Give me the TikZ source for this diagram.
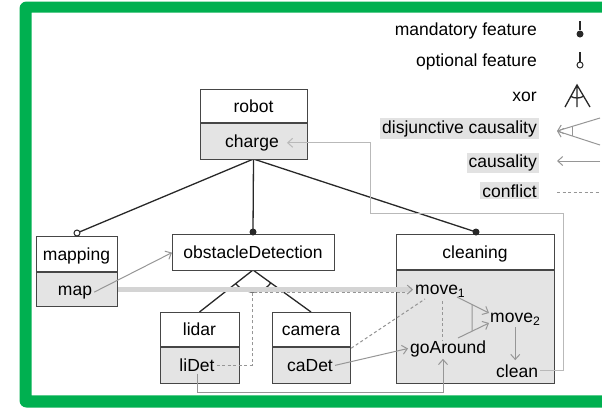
\documentclass[tikz,border=0pt]{standalone}
\usepackage{fontspec}
\setmainfont{Liberation Sans}
\usetikzlibrary{arrows.meta,calc}
\definecolor{framegreen}{RGB}{0,176,80}
\definecolor{boxline}{RGB}{70,70,70}
\definecolor{bodyfill}{RGB}{228,228,228}
\definecolor{causalc}{RGB}{150,150,150}
\definecolor{lightc}{RGB}{185,185,185}
\definecolor{bandc}{RGB}{212,212,212}
\definecolor{hlc}{RGB}{226,226,226}
\definecolor{treec}{RGB}{40,40,40}
\begin{document}
\begin{tikzpicture}[x=1pt,y=-1pt,
  font=\fontsize{17.5pt}{21pt}\selectfont,
  >={Straight Barb[length=5pt,width=9pt]},
  hdr/.style={draw=boxline, line width=1.2pt, fill=white, inner sep=0pt, anchor=north west},
  bdy/.style={hdr, fill=bodyfill},
  lbl/.style={anchor=base, inner sep=2pt},
  lblw/.style={anchor=base west, inner sep=2pt},
  tree/.style={draw=treec, line width=1.3pt},
  mandot/.style={circle, fill=treec, inner sep=0pt, minimum size=7pt},
  optdot/.style={circle, draw=treec, fill=white, line width=1pt, inner sep=0pt, minimum size=6pt},
  causal/.style={draw=causalc, line width=1pt, ->},
  causall/.style={draw=lightc, line width=1pt, ->},
  band/.style={draw=bandc, line width=4.5pt},
  conflict/.style={draw=causalc, line width=1pt, dash pattern=on 3pt off 2.5pt},
  legtxt/.style={anchor=base east, inner sep=2pt},
  leghl/.style={legtxt, fill=hlc},
  divider/.style={draw=boxline, line width=2.2pt}]
\useasboundingbox (0,0) rectangle (602,408);
\begin{scope}
\clip (0,0) rectangle (602,408);
\fill[framegreen, even odd rule] [rounded corners=7pt] (19.5,1.5) rectangle (660,407.5) [sharp corners] (31.5,12.7) rectangle (660,395.3);
\end{scope}

% ---------- legend ----------
\node[legtxt] (lg1) at (539,35.5) {mandatory feature};
\node[legtxt] (lg2) at (539,66) {optional feature};
\node[legtxt] (lg3) at (539,101.5) {xor};
\node[leghl] (lg4) at (539,133) {disjunctive causality};
\node[leghl] (lg5) at (539,167.5) {causality};
\node[leghl] (lg6) at (539,197) {conflict};

\coordinate (s1t) at (580,21);
\node[mandot] (s1) at (580,34) {};
\draw[tree] (s1t) -- (s1);
\coordinate (s2t) at (580,52);
\draw[tree] (s2t) -- (580,62);
\node[optdot] (s2) at (580,65) {};

\coordinate (xa) at (577,85);
\coordinate (xl) at (565,107);
\coordinate (xr) at (590,107);
\coordinate (xb) at (577,107);
\draw[tree] (xl) -- (xa) -- (xr) (xa) -- (xb);
\draw[tree] (xa) ++(241.4:13pt) arc[start angle=241.4, end angle=300.6, radius=13pt];

\coordinate (dt) at (557,131);
\coordinate (du) at (600,118);
\coordinate (dl) at (600,145);
\draw[causal] (du) -- (dt);
\draw[causal] (dl) -- (dt);
\draw[draw=causalc, line width=1pt] ($(dt)!0.37!(du)$) -- ($(dt)!0.37!(dl)$);

\coordinate (ct1) at (600,161);
\coordinate (ct2) at (557,161);
\draw[causal] (ct1) -- (ct2);
\coordinate (cf1) at (557,192);
\coordinate (cf2) at (600,192);
\draw[conflict] (cf1) -- (cf2);

% ---------- features ----------
\coordinate (robotbot) at (253.5,159);
\coordinate (apex) at (253,270);
\draw[tree] (robotbot) -- (77,233);
\draw[tree] (robotbot) -- (253,232);
\draw[tree] (robotbot) -- (476,232);
\draw[tree] (199.5,312) -- (apex) -- (311,312);
\draw[tree] (apex) ++(218.1:22pt) arc[start angle=218.1, end angle=324.1, radius=22pt];

\node[hdr, minimum width=107pt, minimum height=34pt] (robotH) at (200,89) {};
\node[bdy, minimum width=107pt, minimum height=36pt] (robotB) at (200,123) {};
\draw[divider] (robotB.north west) -- (robotB.north east);
\node[lbl] (robot) at (253.5,112.5) {robot};
\node[lbl] (charge) at (252,147.3) {charge};

\node[hdr, minimum width=81pt, minimum height=36pt] (mapH) at (36,236) {};
\node[bdy, minimum width=81pt, minimum height=34pt] (mapB) at (36,272) {};
\draw[divider] (mapB.north west) -- (mapB.north east);
\node[lbl] (mapping) at (76.5,260.5) {mapping};
\node[lbl] (map) at (75,295) {map};

\node[hdr, minimum width=162pt, minimum height=36pt] (odH) at (172,234) {};
\node[lbl] (od) at (253,258.3) {obstacleDetection};

\node[hdr, minimum width=79pt, minimum height=35pt] (lidarH) at (160,312) {};
\node[bdy, minimum width=79pt, minimum height=36pt] (lidarB) at (160,347) {};
\draw[divider] (lidarB.north west) -- (lidarB.north east);
\node[lbl] (lidar) at (199.5,335.8) {lidar};
\node[lbl] (liDet) at (197,371.3) {liDet};

\node[hdr, minimum width=78pt, minimum height=35pt] (camH) at (272,312) {};
\node[bdy, minimum width=78pt, minimum height=36pt] (camB) at (272,347) {};
\draw[divider] (camB.north west) -- (camB.north east);
\node[lbl] (camera) at (311,335.8) {camera};
\node[lbl] (caDet) at (310,371.3) {caDet};

\node[hdr, minimum width=158pt, minimum height=36pt] (clH) at (396,234) {};
\node[bdy, minimum width=158pt, minimum height=113pt] (clB) at (396,270) {};
\draw[divider] (clB.north west) -- (clB.north east);
\node[lbl] (cleaning) at (475,258.3) {cleaning};
\node[lblw] (move1) at (413,294.5) {move\textsubscript{1}};
\node[lblw] (move2) at (488,322.5) {move\textsubscript{2}};
\node[lblw] (goAround) at (408,353) {goAround};
\node[lblw] (clean) at (494,377) {clean};

\node[optdot] (optM) at (77,233) {};
\node[mandot] (mandOD) at (253,232) {};
\node[mandot] (mandCL) at (476,232) {};

% ---------- causality / conflicts ----------
\coordinate (c1) at (563,213);
\coordinate (c2) at (370,213);
\draw[causall] (clean.east) -| (c1) -- (c2) |- ([xshift=6pt]charge.east);

\draw[causal] (map.east) -- (odH.west);
\draw[band, -{Straight Barb[length=5pt,width=9pt,line width=1pt,color=causalc]}] (mapB.east) -- (mapB.east -| move1.west);

\coordinate (c6) at (252,292);
\coordinate (c7) at (405,292);
\draw[conflict] (liDet.east) -| (c6) -- (c7);

\coordinate (c8) at (425,299);
\draw[conflict] (camH.south east) -- (c8);

\coordinate (c9a) at (442,301);
\coordinate (c9b) at (442,340);
\draw[conflict] (c9a) -- (c9b);

\draw[causal] (caDet.east) -- (goAround.west);

\coordinate (c4) at (443,392);
\draw[causal] (liDet.south) |- (c4) -- (c4 |- goAround.south);

\draw[causal, shorten >=2pt] (move2.south) -- (move2.south |- clean.north);

\coordinate (d1) at (457,297);
\coordinate (d2) at (458,338);
\coordinate (t1) at (489,313);
\coordinate (t2) at (489,323);
\draw[causal] (d1) -- (t1);
\draw[causal] (d2) -- (t2);
\draw[draw=causalc, line width=1pt] ($(d1)!0.469!(t1)$) -- ($(d2)!0.452!(t2)$);
\end{tikzpicture}
\end{document}
